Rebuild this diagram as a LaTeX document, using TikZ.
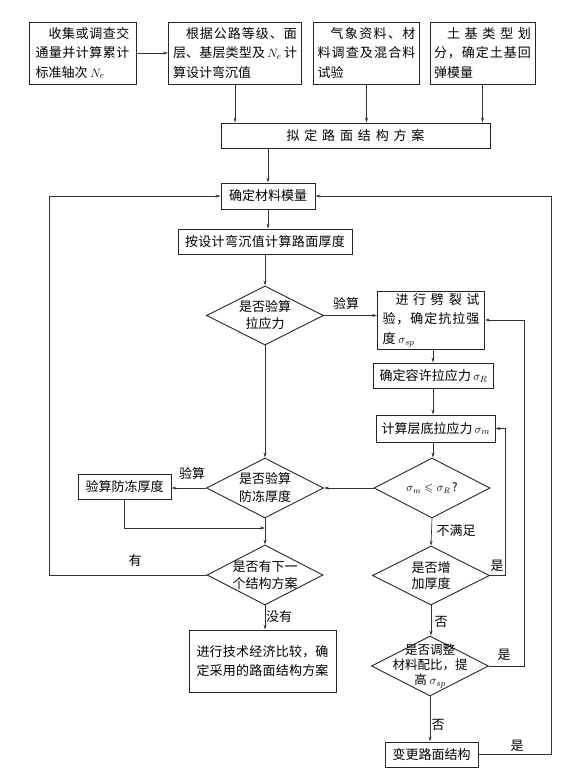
\documentclass[tikz,border=0pt]{standalone}
\usepackage{fontspec}
\setmainfont{Noto Sans CJK SC}
\usepackage{amssymb}
\usetikzlibrary{arrows.meta,shapes.geometric,calc}
\def\spfirst#1{#1\spx}
\def\spx#1{\ifx#1\relax\else\hfil#1\expandafter\spx\fi}
\newcommand\jl[2]{\makebox[#1][s]{\spfirst#2\relax}}
\newcommand\fsbox{\fontsize{13pt}{19.5pt}\selectfont}
\tikzset{
  box/.style={draw=black!85, line width=0.9pt, rectangle, inner sep=0pt, align=left, font=\fsbox},
  dia/.style={draw=black!85, line width=0.9pt, diamond, inner sep=0pt},
  dtext/.style={align=center, inner sep=0pt},
  arr/.style={draw=black!80, line width=0.65pt, -{Stealth[length=5pt,width=3pt]}},
  ln/.style={draw=black!80, line width=0.65pt},
  lab/.style={inner sep=0pt, font=\fontsize{13pt}{15pt}\selectfont}
}
\begin{document}
\begin{tikzpicture}[x=1pt,y=-1pt]
\fill[white] (0,0) rectangle (584,769);
\useasboundingbox (0,0) rectangle (584,769);
% top row
\node[box, minimum width=107pt, minimum height=62pt] (b1) at (82.5,53)
  {\hspace*{13pt}\jl{81pt}{收集或调查交}\\\jl{94pt}{通量并计算累计}\\标准轴次 $N_e$};
\node[box, minimum width=133pt, minimum height=62pt] (b2) at (235,53)
  {\hspace*{13pt}\jl{111pt}{根据公路等级、面}\\\jl{124pt}{层、基层类型及{\,$N_e$\,}计}\\算设计弯沉值};
\node[box, minimum width=106pt, minimum height=62pt] (b3) at (366.5,53)
  {\hspace*{13pt}\jl{85pt}{气象资料、材}\\\jl{98pt}{料调查及混合料}\\试验};
\node[box, minimum width=105pt, minimum height=62pt] (b4) at (482.5,53)
  {\hspace*{13pt}\jl{84pt}{土基类型划}\\\jl{97pt}{分，确定土基回}\\弹模量};
\node[box, minimum width=269pt, minimum height=25pt] (nd) at (355.5,135.5)
  {\jl{138pt}{拟定路面结构方案}};
% main column
\node[box, minimum width=94pt, minimum height=26pt] (m1) at (268,196) {确定材料模量};
\node[box, minimum width=174pt, minimum height=25pt] (m2) at (265,241.5)
  {\jl{160pt}{按设计弯沉值计算路面厚度}};
\node[dia, minimum width=117pt, minimum height=59pt,
  label={[dtext, font=\fontsize{13pt}{17pt}\selectfont]center:{是否验算\\拉应力}}] (d1) at (265,315.5) {};
\node[dia, minimum width=117pt, minimum height=60pt,
  label={[dtext, font=\fontsize{13pt}{18pt}\selectfont]center:{是否验算\\防冻厚度}}] (d2) at (265,488) {};
\node[box, minimum width=93pt, minimum height=25pt] (f1) at (124.5,486.5) {验算防冻厚度};
\node[dia, minimum width=116pt, minimum height=60pt,
  label={[dtext, font=\fontsize{13pt}{17pt}\selectfont]center:{是否有下一\\个结构方案}}] (d3) at (265,575) {};
\node[box, minimum width=147pt, minimum height=62pt] (e1) at (262.5,661)
  {\jl{132pt}{进行技术经济比较，确}\\\jl{132pt}{定采用的路面结构方案}};
% right column
\coordinate (rc) at (433,0);
\node[box, minimum width=107pt, minimum height=58pt] (s1) at (431,320)
  {\hspace*{13pt}\jl{84pt}{进行劈裂试}\\\jl{97pt}{验，确定抗拉强}\\度 $\sigma_{sp}$};
\node[box, minimum width=120pt, minimum height=25pt] (s2) at (433.5,375.5)
  {\jl{108pt}{确定容许拉应力{\,$\sigma_R$}}};
\node[box, minimum width=119pt, minimum height=27pt] (s3) at (435.5,428.5)
  {\jl{108pt}{计算层底拉应力{\,$\sigma_m$}}};
\node[dia, minimum width=116pt, minimum height=60pt,
  label={[dtext, font=\fontsize{11.5pt}{13pt}\selectfont]center:{$\sigma_m\leqslant\sigma_R$\,?}}] (d4) at (432,488) {};
\node[dia, minimum width=117pt, minimum height=59pt,
  label={[dtext, font=\fontsize{13pt}{16pt}\selectfont]center:{是否增\\加厚度}}] (d5) at (431,575.5) {};
\node[dia, minimum width=117pt, minimum height=60pt,
  label={[dtext, font=\fontsize{12.5pt}{15pt}\selectfont]center:{是否调整\\材料配比，提\\高 $\sigma_{sp}$}}] (d6) at (430,666) {};
\node[box, minimum width=93pt, minimum height=25pt] (ch) at (431.5,754.5) {变更路面结构};
\coordinate (l5) at (505,0);
\coordinate (l6) at (524,0);
\coordinate (l7) at (551,0);
\coordinate (ll) at (49.5,0);
\coordinate (j1) at (265,528);
% connectors top
\draw[arr] (b1.east) -- (b2.west);
\draw[arr] (b2.south) -- (b2.south |- nd.north);
\draw[arr] (b3.south) -- (b3.south |- nd.north);
\draw[arr] (b4.south) -- (b4.south |- nd.north);
\draw[arr] (m1.north |- nd.south) -- (m1.north);
\draw[arr] (m1.south) -- (m1.south |- m2.north);
\draw[arr] (m2.south -| d1.north) -- (d1.north);
% main column
\draw[arr] (d1.east) -- (d1.east -| s1.west);
\draw[arr] (d1.south) -- (d2.north);
\draw[arr] (d2.west) -- (d2.west -| f1.east);
\draw[arr] (f1.south) |- (j1);
\draw[arr] (d2.south) -- (d3.north);
\draw[arr] (d3.west) -| (ll |- m1.west) -- (m1.west);
\draw[arr] (d3.south) -- (d3.south |- e1.north);
% right column
\draw[arr] (s1.south -| rc) -- (s2.north -| rc);
\draw[arr] (s2.south -| rc) -- (s3.north -| rc);
\draw[arr] (s3.south -| rc) -- (d4.north -| rc);
\draw[arr] (d4.west) -- (d2.east);
\draw[arr] (d4.south) -- (d5.north);
\draw[arr] (d5.east) -| (l5 |- s3.east) -- (s3.east);
\draw[arr] (d5.south) -- (d5.south |- d6.north);
\draw[arr] (d6.east) -| (l6 |- s1.east) -- (s1.east);
\draw[arr] (d6.south) -- (d6.south |- ch.north);
\draw[arr] (ch.east) -| (l7 |- m1.east) -- (m1.east);
% labels
\node[lab] (t1) at (346,304) {验算};
\node[lab] (t2) at (192,474) {验算};
\node[lab] (t3) at (135,561) {有};
\node[lab] (t4) at (279,617) {没有};
\node[lab] (t5) at (456,531) {不满足};
\node[lab] (t6) at (497,566) {是};
\node[lab] (t7) at (441,622) {否};
\node[lab] (t8) at (504,655) {是};
\node[lab] (t9) at (438,725) {否};
\node[lab] (t10) at (517,746) {是};
\end{tikzpicture}
\end{document}
